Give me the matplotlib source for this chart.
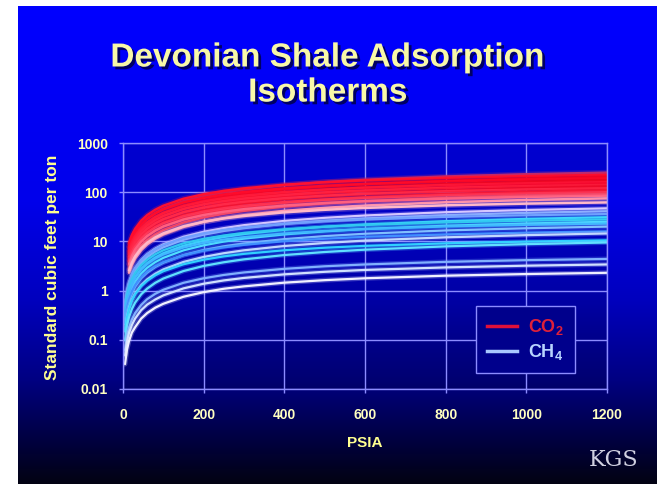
import numpy as np
import matplotlib.pyplot as plt
from matplotlib import patheffects as pe
from matplotlib.lines import Line2D

plt.rcParams['font.family'] = ['Liberation Sans', 'DejaVu Sans']
plt.rcParams['mathtext.default'] = 'regular'

# pressures (psia) where the isotherms were read
co2_psia = [15, 22, 30, 45, 60, 80, 100, 150, 200, 250, 300, 400, 500, 600, 800, 1000, 1200]
ch4_psia = [5, 10, 15, 22, 30, 45, 60, 80, 100, 150, 200, 250, 300, 400, 500, 600, 800, 1000, 1200]

# CO2 isotherms, scf/ton
co2_curves = [
    [7.67, 11.2, 15.1, 22.2, 29.1, 37.9, 46.3, 65.8, 83.3, 99.2, 113.6, 138.9, 160.3, 178.6, 208.3, 231.5, 250],
    [9.28, 13.4, 18.0, 26.3, 34.2, 44.0, 53.1, 73.6, 91.1, 106.2, 119.5, 141.7, 159.4, 173.9, 196.2, 212.5, 225],
    [6.29, 9.15, 12.3, 18.2, 23.8, 31.1, 38.0, 54.0, 68.3, 81.3, 93.2, 113.9, 131.4, 146.4, 170.8, 189.8, 205],
    [7.84, 11.3, 15.2, 22.2, 28.8, 37.1, 44.9, 62.1, 76.9, 89.7, 100.9, 119.6, 134.6, 146.8, 165.6, 179.4, 190],
    [5.37, 7.81, 10.5, 15.5, 20.4, 26.5, 32.4, 46.1, 58.3, 69.4, 79.5, 97.2, 112.2, 125.0, 145.8, 162.0, 175],
    [6.60, 9.55, 12.8, 18.7, 24.3, 31.3, 37.8, 52.3, 64.8, 75.6, 85.0, 100.7, 113.3, 123.6, 139.5, 151.1, 160],
    [4.60, 6.69, 9.04, 13.3, 17.4, 22.7, 27.8, 39.5, 50.0, 59.5, 68.2, 83.3, 96.2, 107.1, 125.0, 138.9, 150],
    [5.78, 8.36, 11.2, 16.4, 21.3, 27.4, 33.1, 45.8, 56.7, 66.1, 74.4, 88.1, 99.2, 108.2, 122.1, 132.2, 140],
    [3.99, 5.80, 7.83, 11.5, 15.1, 19.7, 24.1, 34.2, 43.3, 51.6, 59.1, 72.2, 83.3, 92.9, 108.3, 120.4, 130],
    [4.95, 7.17, 9.62, 14.0, 18.2, 23.4, 28.3, 39.2, 48.6, 56.7, 63.8, 75.6, 85.0, 92.7, 104.6, 113.3, 120],
    [3.37, 4.91, 6.63, 9.76, 12.8, 16.7, 20.4, 29.0, 36.7, 43.6, 50.0, 61.1, 70.5, 78.6, 91.7, 101.8, 110],
    [4.13, 5.97, 8.02, 11.7, 15.2, 19.5, 23.6, 32.7, 40.5, 47.2, 53.1, 63.0, 70.8, 77.3, 87.2, 94.4, 100],
    [2.82, 4.10, 5.54, 8.17, 10.7, 13.9, 17.0, 24.2, 30.7, 36.5, 41.8, 51.1, 59.0, 65.7, 76.7, 85.2, 92],
    [3.51, 5.08, 6.82, 9.95, 12.9, 16.6, 20.1, 27.8, 34.4, 40.1, 45.2, 53.5, 60.2, 65.7, 74.1, 80.3, 85],
    [2.30, 3.35, 4.52, 6.66, 8.72, 11.4, 13.9, 19.7, 25.0, 29.8, 34.1, 41.7, 48.1, 53.6, 62.5, 69.4, 75],
    [2.56, 3.70, 4.97, 7.25, 9.41, 12.1, 14.6, 20.3, 25.1, 29.3, 32.9, 39.0, 43.9, 47.9, 54.1, 58.6, 62],
]
co2_colors = ['#b0307a', '#ff1030', '#ee0022', '#ff0a2a', '#e8001c', '#ff1838',
              '#f00028', '#ff2040', '#e80020', '#ff2848', '#f01030', '#ff3050',
              '#f04060', '#ff6080', '#ff90a8', '#ffb8c8']

# CH4 isotherms, scf/ton
ch4_curves = [
    [0.49, 0.97, 1.44, 2.10, 2.83, 4.17, 5.47, 7.12, 8.70, 12.4, 15.7, 18.6, 21.4, 26.1, 30.1, 33.6, 39.2, 43.5, 47],
    [0.42, 0.84, 1.26, 1.83, 2.47, 3.64, 4.77, 6.21, 7.59, 10.8, 13.7, 16.3, 18.6, 22.8, 26.3, 29.3, 34.2, 38.0, 41],
    [0.51, 1.00, 1.49, 2.15, 2.89, 4.21, 5.46, 7.03, 8.50, 11.8, 14.6, 17.0, 19.1, 22.7, 25.5, 27.8, 31.4, 34.0, 36],
    [0.32, 0.64, 0.95, 1.38, 1.87, 2.75, 3.61, 4.70, 5.74, 8.16, 10.3, 12.3, 14.1, 17.2, 19.9, 22.1, 25.8, 28.7, 31],
    [0.39, 0.78, 1.16, 1.67, 2.25, 3.28, 4.25, 5.47, 6.61, 9.15, 11.3, 13.2, 14.9, 17.6, 19.8, 21.6, 24.4, 26.4, 28],
    [0.26, 0.51, 0.77, 1.12, 1.51, 2.22, 2.91, 3.79, 4.63, 6.58, 8.33, 9.92, 11.4, 13.9, 16.0, 17.9, 20.8, 23.1, 25],
    [0.32, 0.64, 0.95, 1.37, 1.84, 2.69, 3.49, 4.49, 5.43, 7.52, 9.31, 10.9, 12.2, 14.5, 16.3, 17.8, 20.1, 21.7, 23],
    [0.21, 0.41, 0.61, 0.89, 1.20, 1.78, 2.33, 3.03, 3.70, 5.26, 6.67, 7.94, 9.09, 11.1, 12.8, 14.3, 16.7, 18.5, 20],
    [0.22, 0.44, 0.66, 0.96, 1.28, 1.87, 2.43, 3.13, 3.78, 5.23, 6.48, 7.56, 8.50, 10.1, 11.3, 12.4, 13.9, 15.1, 16],
    [0.15, 0.30, 0.44, 0.65, 0.87, 1.29, 1.69, 2.20, 2.69, 3.82, 4.83, 5.75, 6.59, 8.06, 9.29, 10.4, 12.1, 13.4, 14.5],
    [0.15, 0.29, 0.43, 0.63, 0.84, 1.23, 1.59, 2.05, 2.48, 3.43, 4.25, 4.96, 5.58, 6.61, 7.44, 8.11, 9.15, 9.92, 10.5],
    [0.098, 0.20, 0.29, 0.42, 0.57, 0.84, 1.10, 1.44, 1.76, 2.50, 3.17, 3.77, 4.32, 5.28, 6.09, 6.79, 7.92, 8.80, 9.5],
    [0.062, 0.12, 0.18, 0.26, 0.35, 0.51, 0.67, 0.86, 1.04, 1.44, 1.78, 2.08, 2.34, 2.77, 3.12, 3.40, 3.84, 4.16, 4.4],
    [0.048, 0.094, 0.14, 0.20, 0.27, 0.40, 0.52, 0.66, 0.80, 1.11, 1.38, 1.61, 1.81, 2.14, 2.41, 2.63, 2.96, 3.21, 3.4],
    [0.032, 0.064, 0.095, 0.14, 0.18, 0.27, 0.35, 0.45, 0.54, 0.75, 0.93, 1.09, 1.22, 1.45, 1.63, 1.78, 2.01, 2.17, 2.3],
]
ch4_colors = ['#d8c8ff', '#90b0ff', '#70a0ff', '#40d8ff', '#30c8f0', '#50e0ff',
              '#40b8ff', '#80c0ff', '#4090ff', '#c0d8ff', '#30d0ff', '#60e0ff',
              '#80b0ff', '#d0e0ff', '#f0f0ff']

x_ticks = [0, 200, 400, 600, 800, 1000, 1200]
y_ticks = [0.01, 0.1, 1, 10, 100, 1000]
y_tick_labels = ['0.01', '0.1', '1', '10', '100', '1000']

W, H = 657, 484
fig = plt.figure(figsize=(W / 100, H / 100), dpi=100, facecolor='white')

# slide background gradient
bg = fig.add_axes([18 / W, 0, (W - 18) / W, (H - 6) / H])
stops_y = [6, 200, 300, 380, 430, 484]
stops_b = [255, 235, 190, 130, 75, 18]
yy = np.arange(6, 485)
blue = np.interp(yy, stops_y, stops_b) / 255
rg = np.interp(yy, [6, 440, 484], [0, 0, 3]) / 255
grad = np.stack([rg, rg, blue], axis=1)[:, None, :]
bg.imshow(grad, aspect='auto', extent=[0, 1, 0, 1])
bg.axis('off')

grid_c = '#8c8cff'
ax = fig.add_axes([123 / W, 1 - 389 / H, 484 / W, 246 / H])
ax.set_facecolor((0, 0, 0.08, 0.15))

for vals, c in zip(co2_curves, co2_colors):
    ax.plot(co2_psia, vals, color=c, lw=1.8, solid_capstyle='round',
            path_effects=[pe.Stroke(linewidth=4, foreground=c, alpha=0.25), pe.Normal()])
for vals, c in zip(ch4_curves, ch4_colors):
    ax.plot(ch4_psia, vals, color=c, lw=1.6, solid_capstyle='round',
            path_effects=[pe.Stroke(linewidth=3.5, foreground=c, alpha=0.25), pe.Normal()])

ax.set_yscale('log')
ax.set_xlim(0, 1200)
ax.set_ylim(0.01, 1000)
ax.set_xticks(x_ticks)
ax.set_xticklabels([str(t) for t in x_ticks])
ax.set_yticks(y_ticks)
ax.set_yticklabels(y_tick_labels)
ax.minorticks_off()
ax.grid(True, color=grid_c, lw=1)
ax.set_axisbelow(True)
for s in ax.spines.values():
    s.set_color(grid_c)
    s.set_linewidth(1)
ax.tick_params(axis='both', colors=grid_c, length=3, width=1, direction='out',
               labelcolor='#ffffc0', labelsize=10)
ax.tick_params(axis='x', pad=11)
ax.tick_params(axis='y', pad=8)
for lab in ax.get_xticklabels() + ax.get_yticklabels():
    lab.set_fontweight('bold')

# legend
handles = [Line2D([], [], color='#e0103a', lw=2.5),
           Line2D([], [], color='#a8c8ff', lw=2.5)]
leg = ax.legend(handles, ['CO$_2$', 'CH$_4$'], loc='upper left',
                bbox_to_anchor=(0.729, 0.337), borderaxespad=0, frameon=True,
                fancybox=False, edgecolor=grid_c, facecolor=(0, 0, 0.55), framealpha=1,
                prop={'size': 13, 'weight': 'bold'}, handlelength=1.7,
                handletextpad=0.6, borderpad=0.6, labelspacing=0.3)
leg.get_frame().set_linewidth(1)
leg.get_texts()[0].set_color('#e0203a')
leg.get_texts()[1].set_color('#b8d4ff')

# titles and labels
shadow = [pe.withSimplePatchShadow(offset=(2, -2), shadow_rgbFace='black', alpha=0.6)]
fig.text(328 / W, 1 - 58 / H, 'Devonian Shale Adsorption', ha='center', va='center',
         fontsize=24, fontweight='bold', color='#f8f8a8', path_effects=shadow)
fig.text(328 / W, 1 - 93 / H, 'Isotherms', ha='center', va='center',
         fontsize=24, fontweight='bold', color='#f8f8a8', path_effects=shadow)
fig.text(53 / W, 1 - 267 / H, 'Standard cubic feet per ton', rotation=90,
         ha='center', va='center', fontsize=12.5, fontweight='bold', color='#ffff90')
fig.text(365 / W, 1 - 443 / H, 'PSIA', ha='center', va='center',
         fontsize=11, fontweight='bold', color='#ffff90')
fig.text(614 / W, 1 - 460 / H, 'KGS', ha='center', va='center', family='DejaVu Serif',
         fontsize=16, color='#d0d0e0')

fig.savefig('out.png', dpi=100, facecolor='white')
